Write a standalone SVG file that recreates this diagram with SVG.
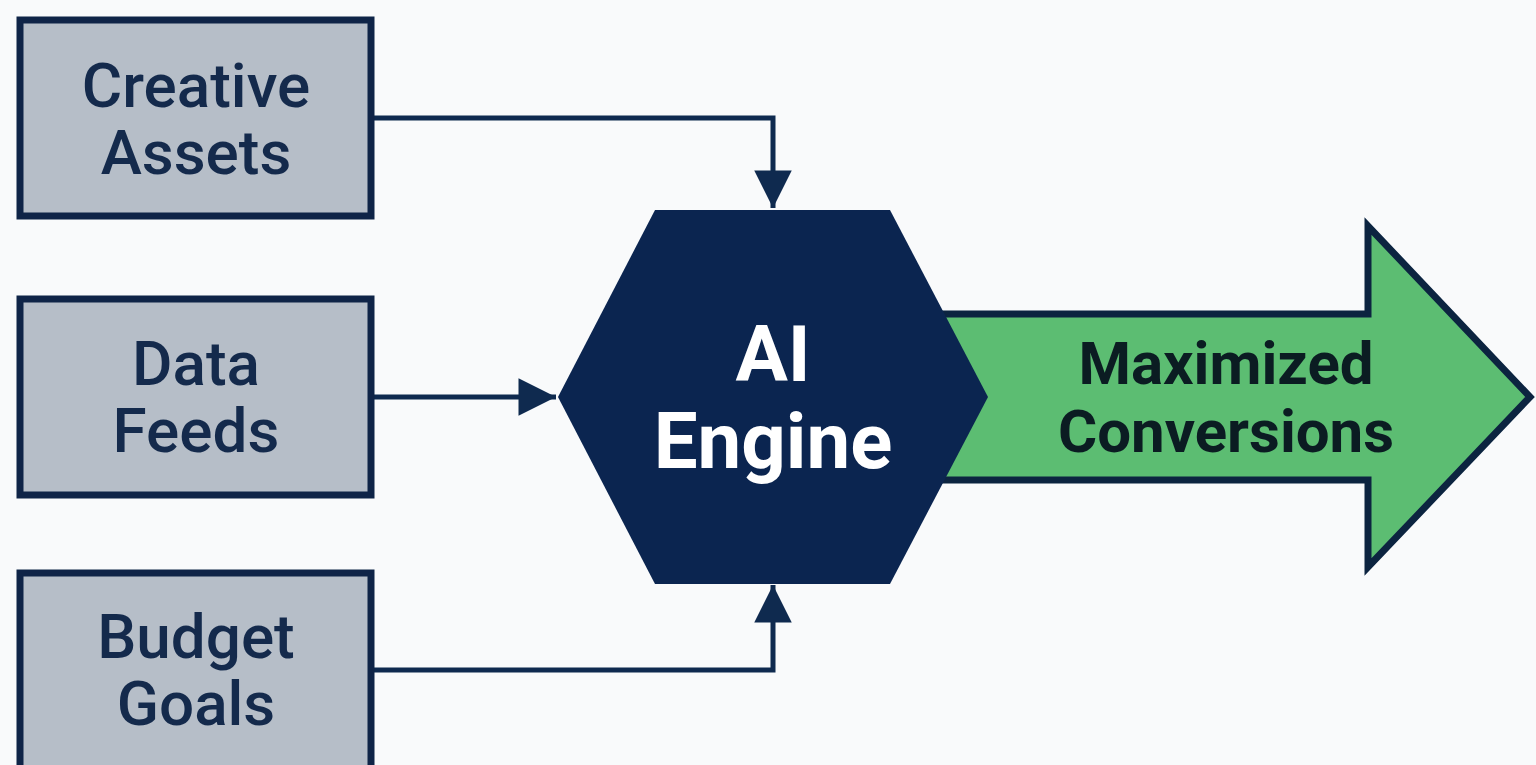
<svg xmlns="http://www.w3.org/2000/svg" width="1536" height="765" viewBox="0 0 1536 765">
  <defs>
    <style>
      .box { fill: #b6bec8; stroke: #0f2447; stroke-width: 7; }
      .boxtxt { font-family: Roboto, "Liberation Sans", sans-serif; font-size: 62px; font-weight: 500; fill: #142a4c; text-anchor: middle; }
      .wire { fill: none; stroke: #0f2a4f; stroke-width: 5; stroke-linejoin: miter; }
      .hex { fill: #0b2550; }
      .hextxt { font-family: Roboto, "Liberation Sans", sans-serif; font-size: 78px; font-weight: 700; fill: #ffffff; text-anchor: middle; }
      .out { fill: #5cbd72; stroke: #0c2440; stroke-width: 7; stroke-linejoin: miter; }
      .outtxt { font-family: Roboto, "Liberation Sans", sans-serif; font-size: 60px; font-weight: 700; fill: #0b1c22; text-anchor: middle; }
    </style>
    <marker id="head" viewBox="0 0 10 10" refX="10" refY="5" markerWidth="8" markerHeight="7.5" markerUnits="strokeWidth" orient="auto">
      <path d="M0,0 L10,5 L0,10 Z" fill="#0f2a4f"/>
    </marker>
  </defs>

  <rect width="1536" height="765" fill="#f9fafb"/>

  <!-- connectors from inputs to engine -->
  <g id="connectors">
    <path class="wire" d="M374,118 H773 V208" marker-end="url(#head)"/>
    <path class="wire" d="M374,397 H556" marker-end="url(#head)"/>
    <path class="wire" d="M374,670 H773 V585" marker-end="url(#head)"/>
  </g>

  <!-- output arrow -->
  <g id="output">
    <path class="out" d="M900,314 H1368 V226 L1530,397 L1368,567 V480 H900 Z"/>
    <text class="outtxt" x="1226" y="384">Maximized</text>
    <text class="outtxt" x="1226" y="452">Conversions</text>
  </g>

  <!-- central engine -->
  <g id="engine">
    <polygon class="hex" points="655,210 890,210 988,397 890,584 655,584 558,397"/>
    <text class="hextxt" x="773" y="381">AI</text>
    <text class="hextxt" x="773" y="468">Engine</text>
  </g>

  <!-- inputs -->
  <g id="creative-assets">
    <rect class="box" x="20" y="20" width="351" height="196"/>
    <text class="boxtxt" x="196" y="107">Creative</text>
    <text class="boxtxt" x="196" y="174">Assets</text>
  </g>
  <g id="data-feeds">
    <rect class="box" x="20" y="299" width="351" height="196"/>
    <text class="boxtxt" x="196" y="385">Data</text>
    <text class="boxtxt" x="196" y="452">Feeds</text>
  </g>
  <g id="budget-goals">
    <rect class="box" x="20" y="573" width="351" height="210"/>
    <text class="boxtxt" x="196" y="658">Budget</text>
    <text class="boxtxt" x="196" y="725">Goals</text>
  </g>
</svg>
